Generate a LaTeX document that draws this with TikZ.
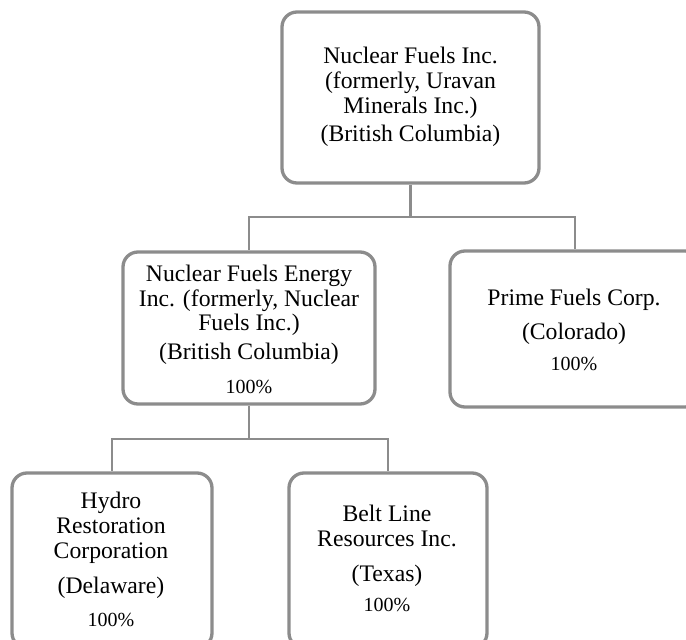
\documentclass[tikz,border=0pt]{standalone}
\usepackage{fontspec}
\setmainfont{Liberation Serif}
\definecolor{linegray}{RGB}{140,140,140}
\tikzset{
  box/.style={draw=linegray, line width=3.3pt, rounded corners=15pt, fill=white, inner sep=0pt},
  conn/.style={draw=linegray, line width=2.4pt},
  txt/.style={anchor=base, inner sep=0pt, font=\fontsize{23.7}{28}\selectfont},
  pct/.style={anchor=base, inner sep=0pt, font=\fontsize{20}{24}\selectfont}
}
\begin{document}
\begin{tikzpicture}[x=1pt,y=-1pt]
\useasboundingbox (0,0) rectangle (686,640);
\clip (0,0) rectangle (686,640);
% connectors
\coordinate (j1) at (410.5,217);
\coordinate (j2) at (249,439);
% boxes
\node[box, minimum width=257pt, minimum height=171pt] (top) at (410.5,97.5) {};
\node[box, minimum width=252pt, minimum height=152pt] (midl) at (249,328) {};
\node[box, minimum width=250pt, minimum height=156pt] (prime) at (575,329) {};
\node[box, minimum width=200pt, minimum height=175pt] (hydro) at (112,560.5) {};
\node[box, minimum width=198pt, minimum height=175pt] (belt) at (388,560.5) {};
\draw[conn] (top.south) -- (j1) -| (midl.north);
\draw[conn] (j1) -| (prime.north);
\draw[conn] (midl.south) -- (j2) -| (hydro.north);
\draw[conn] (j2) -| (belt.north);
% texts: top
\node[txt] (ta) at (410.5,63.3) {Nuclear Fuels Inc.};
\node[txt] (tb) at (410.5,88.3) {(formerly, Uravan};
\node[txt] (tc) at (410.5,113.3) {Minerals Inc.)};
\node[txt] (td) at (410.5,141.7) {(British Columbia)};
% mid left
\node[txt] (ma) at (249,281.7) {Nuclear Fuels Energy};
\node[txt] (mb) at (249,306) {Inc. (formerly, Nuclear};
\node[txt] (mc) at (249,330) {Fuels Inc.)};
\node[txt] (md) at (249,359.3) {(British Columbia)};
\node[pct] (me) at (249,393.3) {100\%};
% prime
\node[txt] (pa) at (574,305) {Prime Fuels Corp.};
\node[txt] (pb) at (574,339.3) {(Colorado)};
\node[pct] (pc) at (574,370) {100\%};
% hydro
\node[txt] (ha) at (111,508.3) {Hydro};
\node[txt] (hb) at (111,533.3) {Restoration};
\node[txt] (hc) at (111,558.3) {Corporation};
\node[txt] (hd) at (111,593.3) {(Delaware)};
\node[pct] (he) at (111,626) {100\%};
% belt
\node[txt] (ba) at (387,521.7) {Belt Line};
\node[txt] (bb) at (387,546.7) {Resources Inc.};
\node[txt] (bc) at (387,581.7) {(Texas)};
\node[pct] (bd) at (387,611.7) {100\%};
\end{tikzpicture}
\end{document}
